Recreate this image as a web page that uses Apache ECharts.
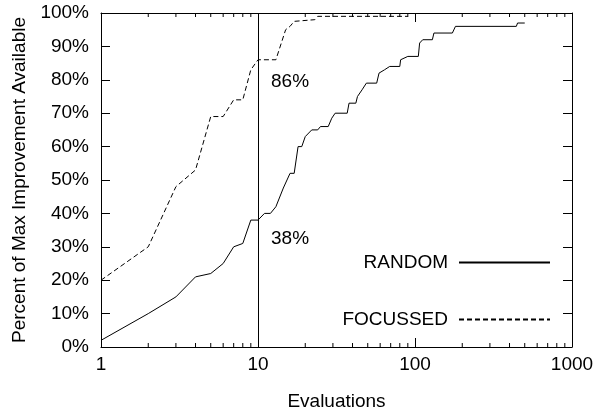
<!DOCTYPE html>
<html>
<head>
<meta charset="utf-8">
<script src="https://cdn.jsdelivr.net/npm/echarts@6/dist/echarts.min.js"></script>
<style>
  html, body { margin: 0; padding: 0; background: #fff; }
  #chart { width: 606px; height: 416px; }
</style>
</head>
<body>
<div id="chart"></div>
<script>
// evaluations (x) and percent of max improvement (y)
const randomX = [1, 2, 3, 4, 5, 6, 7, 8, 9, 10, 11, 12, 13, 14.5, 16, 17, 18, 19, 20, 22, 24, 25, 28, 29.5, 31, 37, 38, 42, 43, 46, 49, 57, 59, 64, 69, 80, 81, 90, 105, 107, 112, 129, 132, 173, 181, 442, 450, 500]
const randomY = [2, 10, 15, 21, 22, 25, 30, 31, 38, 38, 40, 40, 42, 47.6, 52, 52, 60, 60, 63, 65, 65, 66, 66, 68.5, 70, 70, 73, 73, 75, 77, 79, 79, 82, 83, 84, 84, 86, 87, 87, 91, 92, 92, 94, 94, 96, 96, 97, 97]
const focussedX = [1, 2, 3, 4, 5, 6, 7, 8, 9, 10, 13, 15, 16, 17, 23, 24, 90]
const focussedY = [20, 30, 48, 53, 69, 69, 74, 74, 83, 86, 86, 95, 96, 97.5, 98, 99, 99]

const markX = 10
const minorTicks = [2, 3, 4, 5, 6, 7, 8, 9, 20, 30, 40, 50, 60, 70, 80, 90, 200, 300, 400, 500, 600, 700, 800, 900]
// annotation anchors (data coords) for the values read at x = 10
const notePos = [[16, 79.4], [16, 32.4]]

const font = 'Liberation Sans'
const ink = '#000'

const pairs = (xs, ys) => xs.map((x, i) => [x, ys[i]])
const valueAt = (xs, ys, x) => ys[xs.indexOf(x)]

const chart = echarts.init(document.getElementById('chart'))

const xBase = {
  type: 'log',
  logBase: 10,
  min: 1,
  max: 1000,
  axisLine: { show: true, onZero: false, lineStyle: { color: ink, width: 1 } },
  axisTick: { show: true, inside: true, length: 9, lineStyle: { color: ink } },
  splitLine: { show: false }
}
const yBase = {
  type: 'value',
  min: 0,
  max: 100,
  interval: 10,
  axisLine: { show: true, onZero: false, lineStyle: { color: ink, width: 1 } },
  axisTick: { show: true, inside: true, length: 9, lineStyle: { color: ink } },
  splitLine: { show: false }
}

chart.setOption({
  animation: false,
  textStyle: { fontFamily: font, color: ink },
  grid: { left: 101, right: 34, top: 13, bottom: 62 },
  legend: {
    data: ['RANDOM', 'FOCUSSED'],
    orient: 'vertical',
    right: 50,
    top: 248,
    align: 'right',
    itemWidth: 91,
    itemHeight: 14,
    itemGap: 38,
    itemStyle: { opacity: 0 },
    textStyle: { fontFamily: font, fontSize: 19, color: ink, padding: [0, 6, 0, 0] }
  },
  xAxis: [
    Object.assign({}, xBase, {
      position: 'bottom',
      name: 'Evaluations',
      nameLocation: 'middle',
      nameGap: 45,
      nameTextStyle: { fontSize: 19, color: ink },
      axisLabel: { fontSize: 19, color: ink, margin: 8, formatter: v => String(v) }
    }),
    Object.assign({}, xBase, { position: 'top', axisLabel: { show: false } })
  ],
  yAxis: [
    Object.assign({}, yBase, {
      position: 'left',
      name: 'Percent of Max Improvement Available',
      nameLocation: 'middle',
      nameGap: 72,
      nameTextStyle: { fontSize: 19, color: ink },
      axisLabel: { fontSize: 19, color: ink, margin: 12, formatter: '{value}%' }
    }),
    Object.assign({}, yBase, { position: 'right', axisLabel: { show: false } })
  ],
  series: [
    {
      name: 'RANDOM',
      type: 'line',
      data: pairs(randomX, randomY),
      symbol: 'none',
      lineStyle: { color: ink, width: 1 },
      itemStyle: { color: ink },
      markLine: {
        silent: true,
        symbol: 'none',
        label: { show: false },
        lineStyle: { color: ink, width: 1, type: 'solid' },
        data: [{ xAxis: markX }]
      }
    },
    {
      name: 'FOCUSSED',
      type: 'line',
      data: pairs(focussedX, focussedY),
      symbol: 'none',
      lineStyle: { color: ink, width: 1, type: [5, 3] },
      itemStyle: { color: ink }
    },
    {
      // log-axis minor ticks (bottom and top edge)
      type: 'custom',
      silent: true,
      clip: false,
      data: minorTicks.map(v => [v, 0]),
      renderItem: (params, api) => {
        const bot = api.coord([api.value(0), 0])
        const top = api.coord([api.value(0), 100])
        return {
          type: 'group',
          children: [
            { type: 'line', shape: { x1: bot[0], y1: bot[1], x2: bot[0], y2: bot[1] - 4 }, style: { stroke: ink, lineWidth: 1 } },
            { type: 'line', shape: { x1: top[0], y1: top[1], x2: top[0], y2: top[1] + 4 }, style: { stroke: ink, lineWidth: 1 } }
          ]
        }
      }
    },
    {
      type: 'scatter',
      silent: true,
      symbolSize: 0,
      itemStyle: { opacity: 1 },
      data: [
        [notePos[0][0], notePos[0][1], valueAt(focussedX, focussedY, markX) + '%'],
        [notePos[1][0], notePos[1][1], valueAt(randomX, randomY, markX) + '%']
      ],
      label: {
        show: true,
        position: 'inside',
        fontSize: 19,
        color: ink,
        formatter: p => p.value[2]
      }
    }
  ]
})
</script>
</body>
</html>
